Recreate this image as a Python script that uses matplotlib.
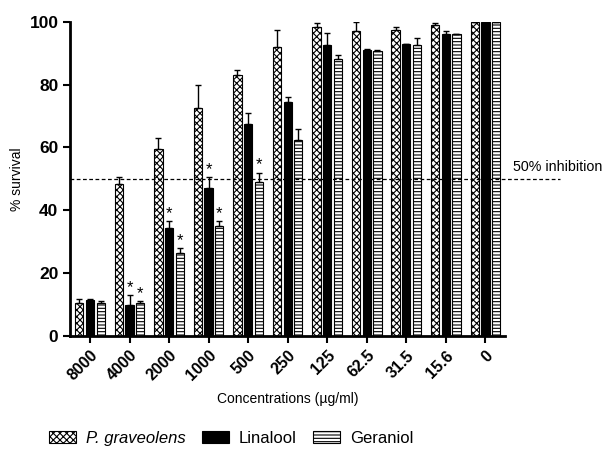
import numpy as np
import matplotlib
matplotlib.use('Agg')
import matplotlib.pyplot as plt

conc = ["8000", "4000", "2000", "1000", "500", "250", "125", "62.5", "31.5", "15.6", "0"]
pg = [10.5, 48.5, 59.5, 72.5, 83, 92, 98.5, 97, 97.5, 99, 100]
pg_err = [1.2, 2, 3.5, 7.5, 1.5, 5.5, 1, 3, 1, 0.5, 0]
lin = [11.5, 10, 34.5, 47, 67.5, 74.5, 92.5, 91, 93, 96, 100]
lin_err = [0.3, 3, 2, 3.5, 3.5, 1.5, 4, 0.3, 0, 1, 0]
ger = [10.5, 10.5, 26.5, 35, 49, 62.5, 88, 90.7, 92.5, 96, 100]
ger_err = [0.5, 0.5, 1.5, 1.5, 3, 3.5, 1.5, 0.3, 2.5, 0, 0]
lin_star = [1, 2, 3]
ger_star = [1, 2, 3, 4]

plt.rcParams['font.family'] = ['Liberation Sans', 'DejaVu Sans']
plt.rcParams['hatch.linewidth'] = 0.8

fig = plt.figure(figsize=(6.16, 4.54), dpi=100)
ax = fig.add_axes([0.114, 0.26, 0.706, 0.692])

x = np.arange(len(conc))
w = 0.21
off = 0.27
ekw = dict(elinewidth=1, capsize=2, capthick=1, ecolor='black')
b1 = ax.bar(x - off, pg, w, color='white', edgecolor='black', hatch='xxxxx', lw=0.8, label='P. graveolens')
ax.errorbar(x - off, pg, yerr=[np.zeros(len(pg)), pg_err], fmt='none', **ekw)
b2 = ax.bar(x, lin, w, color='black', edgecolor='black', lw=0.8, label='Linalool')
ax.errorbar(x, lin, yerr=[np.zeros(len(lin)), lin_err], fmt='none', **ekw)
b3 = ax.bar(x + off, ger, w, color='white', edgecolor='black', hatch='-----', lw=0.8, label='Geraniol')
ax.errorbar(x + off, ger, yerr=[np.zeros(len(ger)), ger_err], fmt='none', **ekw)

for i in lin_star:
    ax.text(x[i], lin[i] + lin_err[i] + 2.5, '*', ha='center', va='center', fontsize=12)
for i in ger_star:
    ax.text(x[i] + off, ger[i] + ger_err[i] + 2.5, '*', ha='center', va='center', fontsize=12)

ax.plot([-0.5, 11.9], [50, 50], ls='--', color='black', lw=0.9, clip_on=False, dashes=(3, 2))
ax.text(10.7, 51.5, '50% inhibition', fontsize=10.3, va='bottom', ha='left')

ax.set_xlim(-0.5, 10.5)
ax.set_ylim(0, 100)
ax.set_yticks([0, 20, 40, 60, 80, 100])
ax.set_xticks(x)
ax.set_xticklabels(conc, rotation=45, ha='right', rotation_mode='anchor', fontweight='bold', fontsize=11.5)
for t in ax.get_yticklabels():
    t.set_fontweight('bold')
    t.set_fontsize(12.5)
ax.spines['top'].set_visible(False)
ax.spines['right'].set_visible(False)
ax.spines['left'].set_linewidth(2)
ax.spines['bottom'].set_linewidth(2)
ax.tick_params(width=1.5, length=5)
ax.set_ylabel('% survival', fontsize=10)
ax.set_xlabel('Concentrations (µg/ml)', fontsize=10, labelpad=6)

leg = fig.legend(handles=[b1, b2, b3], loc='lower center', ncol=3, frameon=False,
                 bbox_to_anchor=(0.375, -0.015), fontsize=12, handlelength=1.6,
                 handletextpad=0.6, columnspacing=1.0)
leg.get_texts()[0].set_style('italic')

fig.savefig('out.png')
